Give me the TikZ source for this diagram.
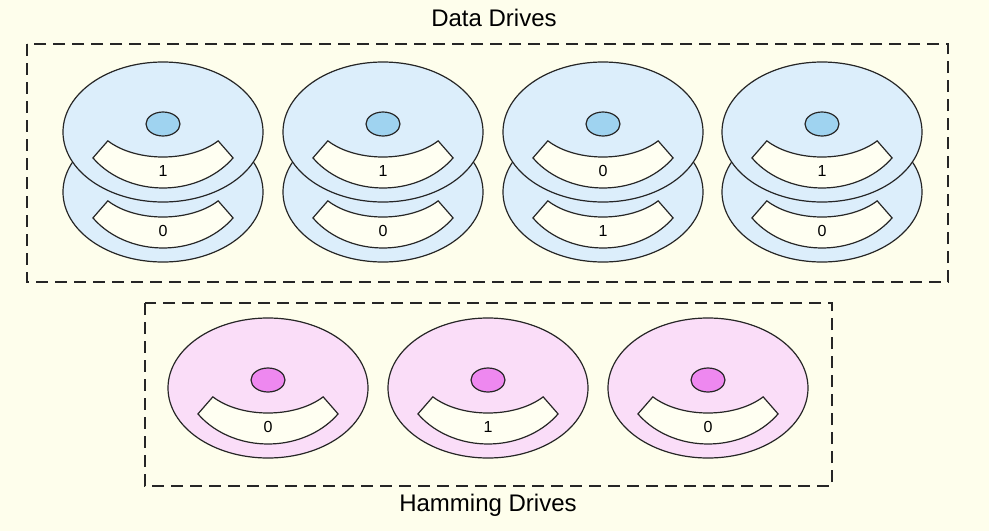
\documentclass[tikz,border=0pt]{standalone}
\usepackage{fontspec}
\setmainfont{Liberation Sans}
\definecolor{bg}{HTML}{FEFEEC}
\definecolor{bdisk}{HTML}{DCEEFB}
\definecolor{bhub}{HTML}{9FD3F0}
\definecolor{pdisk}{HTML}{FADDF8}
\definecolor{phub}{HTML}{EE88F0}
\definecolor{slot}{HTML}{FFFFF2}
\tikzset{
  edge/.style={draw=black!85, line width=1.2pt},
  frame/.style={draw=black!85, line width=1.3pt, dash pattern=on 12pt off 7pt},
  lbl/.style={font=\fontsize{16}{18}\selectfont},
  ttl/.style={font=\fontsize{24}{28}\selectfont}
}
\newcommand{\platter}[5]{% x, y, disk color, hub color (or none), label
  \fill[#3, edge] (#1,#2) ellipse [x radius=100, y radius=70];
  \ifx#4n\else\fill[#4, edge] (#1,#2-8) ellipse [x radius=17, y radius=12];\fi
  \fill[slot, edge] ($(#1,#2-17)+(38:70 and 42)$) arc [start angle=38, end angle=142, x radius=70, y radius=42]
     -- ($(#1,#2-17)+(144:86.6 and 73)$) arc [start angle=144, end angle=36, x radius=86.6, y radius=73] -- cycle;
  \node[lbl] at (#1,#2+39) {#5};
}
\usetikzlibrary{calc}
\begin{document}
\begin{tikzpicture}[x=1pt,y=-1pt]
\fill[bg] (0,0) rectangle (989,531);
\useasboundingbox (0,0) rectangle (989,531);
\node[ttl] (t1) at (494,18) {Data Drives};
\node[ttl] (t2) at (488,505) {Hamming Drives};
\draw[frame] (27,44) rectangle (948,282);
\draw[frame] (145,303) rectangle (832,486);
\foreach \x/\a/\b in {163/1/0, 383/1/0, 603/0/1, 822/1/0}{
  \platter{\x}{192}{bdisk}{n}{\b}
  \platter{\x}{132}{bdisk}{bhub}{\a}
}
\foreach \x/\a in {268/0, 488/1, 708/0}{
  \platter{\x}{388}{pdisk}{phub}{\a}
}
\end{tikzpicture}
\end{document}
